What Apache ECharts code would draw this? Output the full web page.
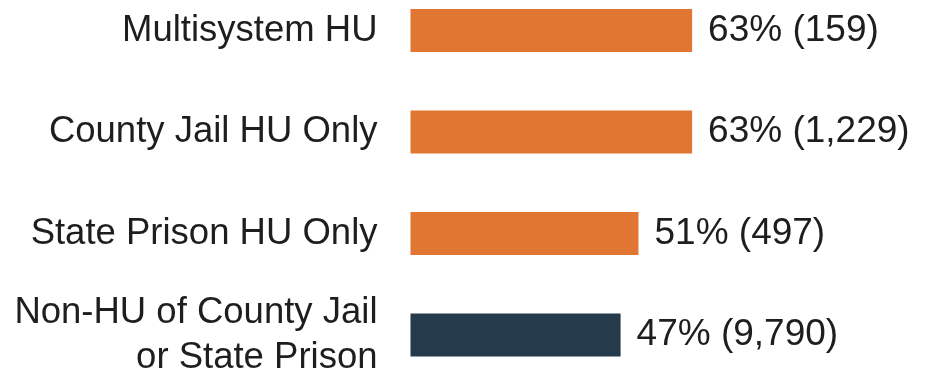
<!DOCTYPE html>
<html>
<head>
<meta charset="utf-8">
<script src="https://cdn.jsdelivr.net/npm/echarts@6/dist/echarts.min.js"></script>
<style>
  html, body { margin: 0; padding: 0; background: #ffffff; }
  #chart { width: 933px; height: 373px; }
</style>
</head>
<body>
<div id="chart"></div>
<script>
// Groups, shown top to bottom
const categories = [
  'Multisystem HU',
  'County Jail HU Only',
  'State Prison HU Only',
  'Non-HU of County Jail\nor State Prison'
];
// Share of each group (percent)
const percents = [63, 63, 51, 47];
// Group sizes printed next to the percentages
const counts = ['159', '1,229', '497', '9,790'];

const ORANGE = '#E07632';
const NAVY = '#253B4B';
const barColors = [ORANGE, ORANGE, ORANGE, NAVY];

const chart = echarts.init(document.getElementById('chart'), null, { renderer: 'canvas' });

chart.setOption({
  animation: false,
  backgroundColor: '#ffffff',
  grid: {
    left: 410.5, top: 30.5, width: 447, height: 304.5,
    containLabel: false,
    outerBoundsMode: 'none'
  },
  xAxis: {
    type: 'value',
    min: 0,
    max: 100,
    show: false
  },
  yAxis: {
    type: 'category',
    data: categories,
    inverse: true,
    boundaryGap: false,
    axisLine: { show: false },
    axisTick: { show: false },
    splitLine: { show: false },
    axisLabel: {
      margin: 33,
      color: '#1e1e1e',
      fontFamily: 'Liberation Sans, Arial, sans-serif',
      fontSize: 36.5,
      lineHeight: 45,
      align: 'right'
    }
  },
  series: [{
    type: 'bar',
    barWidth: 43,
    data: percents.map((v, i) => ({ value: v, itemStyle: { color: barColors[i] } })),
    label: {
      show: true,
      position: 'right',
      distance: 16,
      color: '#1e1e1e',
      fontFamily: 'Liberation Sans, Arial, sans-serif',
      fontSize: 37,
      formatter: p => `${p.value}% (${counts[p.dataIndex]})`
    }
  }]
});
</script>
</body>
</html>
